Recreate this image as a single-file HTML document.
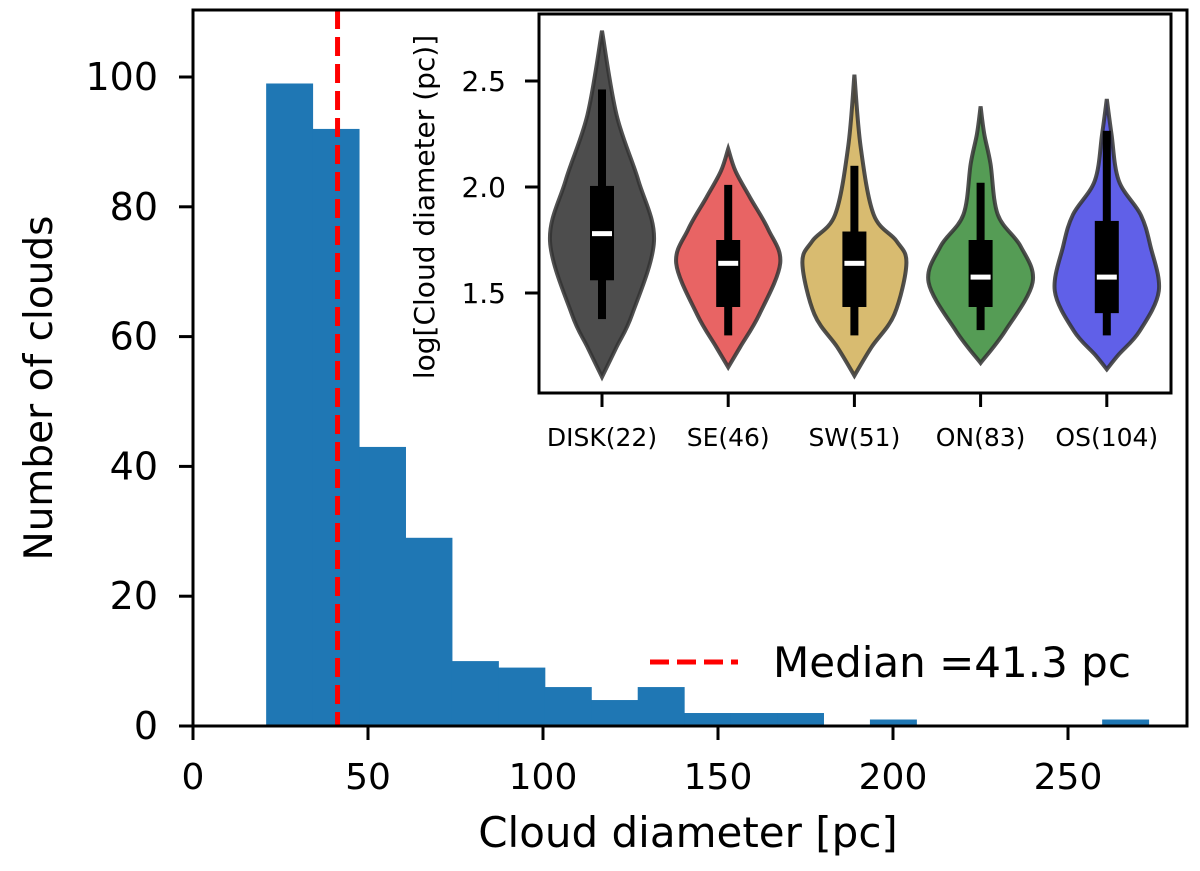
<!DOCTYPE html>
<html><head><meta charset="utf-8"><style>
body{margin:0;background:#fff}
svg text{font-family:"DejaVu Sans","Liberation Sans",sans-serif}
</style></head><body>
<svg id="chart" width="1200" height="866" viewBox="0 0 1200 866" xmlns="http://www.w3.org/2000/svg">
<g id="main"></g><g id="inset"></g>
</svg>
<script>
// Histogram data
const binStart = 20.9;
const binWidth = 13.27;
const counts = [99,92,43,29,10,9,6,4,6,2,2,2,0,1,0,0,0,0,1];
const xTicks = [0,50,100,150,200,250];
const yTicks = [0,20,40,60,80,100];
const medianValue = 41.3;

// Inset violin data
const categories = ["DISK(22)","SE(46)","SW(51)","ON(83)","OS(104)"];
const colors = ["#4d4d4d","#e86464","#d8bb70","#559c55","#6060e8"];
const vLevels = [
 [2.737,2.34,2.03,1.745,1.40,1.245,1.104],
 [2.18,2.075,1.95,1.80,1.64,1.40,1.245,1.15],
 [2.53,2.19,1.87,1.745,1.64,1.40,1.245,1.11],
 [2.38,2.25,2.11,1.87,1.72,1.55,1.32,1.17],
 [2.415,2.25,2.03,1.87,1.72,1.51,1.32,1.21,1.14]
];
const vWidths = [
 [0,0.28,0.70,1.0,0.58,0.28,0],
 [0,0.14,0.42,0.77,1.0,0.60,0.23,0],
 [0,0.12,0.37,0.81,1.0,0.77,0.33,0],
 [0,0.07,0.19,0.33,0.77,1.0,0.47,0],
 [0,0.09,0.23,0.65,0.84,1.0,0.63,0.23,0]
];
const q1 = [1.56,1.434,1.434,1.434,1.405];
const q3 = [2.005,1.75,1.79,1.75,1.84];
const medians = [1.78,1.64,1.64,1.575,1.575];
const whiskLo = [1.377,1.30,1.30,1.325,1.30];
const whiskHi = [2.46,2.01,2.10,2.02,2.265];
const insetYTicks = [1.5,2.0,2.5];

const NS="http://www.w3.org/2000/svg";
function mk(tag,attrs,parent){const e=document.createElementNS(NS,tag);for(const k in attrs)e.setAttribute(k,attrs[k]);parent.appendChild(e);return e;}

// main axes
const L=193,R=1187,T=10,B=726;
const xs=v=>L+v*3.5;
const ys=v=>B-v*6.49;
const main=document.getElementById('main');
counts.forEach((c,i)=>{
  if(c<=0)return;
  const x0=xs(binStart+i*binWidth),x1=xs(binStart+(i+1)*binWidth);
  const r=mk('rect',{x:x0,y:ys(c),width:x1-x0+0.5,height:B-ys(c),fill:'#1f77b4'},main);
  
  
});
const ml=mk('line',{x1:xs(medianValue),x2:xs(medianValue),y1:T,y2:B,stroke:'#ff0000','stroke-width':5,'stroke-dasharray':'19,8'},main);


const fr=mk('rect',{x:L,y:T,width:R-L,height:B-T,fill:'none',stroke:'#000','stroke-width':3},main);


xTicks.forEach(t=>{
  mk('line',{x1:xs(t),x2:xs(t),y1:B,y2:B+14,stroke:'#000','stroke-width':3},main);
  const tx=mk('text',{x:xs(t),y:789,'font-size':36,'text-anchor':'middle'},main);tx.textContent=t;
  
  
});
yTicks.forEach(t=>{
  mk('line',{x1:L-14,x2:L,y1:ys(t),y2:ys(t),stroke:'#000','stroke-width':3},main);
  const tx=mk('text',{x:158,y:ys(t)+13,'font-size':38,'text-anchor':'end'},main);tx.textContent=t;
  
  
});
let t=mk('text',{x:688,y:847,'font-size':42,'text-anchor':'middle'},main);t.textContent='Cloud diameter [pc]';


t=mk('text',{x:0,y:0,'font-size':39,'text-anchor':'middle',transform:'translate(52,388) rotate(-90)'},main);t.textContent='Number of clouds';


const lg=mk('line',{x1:650,x2:738,y1:662,y2:662,stroke:'#ff0000','stroke-width':5,'stroke-dasharray':'19,8'},main);


t=mk('text',{x:773,y:677,'font-size':42},main);t.textContent='Median =41.3 pc';



// inset
const IL=539,IR=1171,IT=14,IB=393;
const iy=v=>81+(2.5-v)*212;
const ix=i=>602+i*126.2;
const HW=52;
const inset=document.getElementById('inset');
mk('rect',{x:IL,y:IT,width:IR-IL,height:IB-IT,fill:'#fff',stroke:'none'},inset);
function smoothPath(pts){
  let d=`M${pts[0][0]},${pts[0][1]}`;
  for(let i=0;i<pts.length-1;i++){
    const p0=pts[Math.max(0,i-1)],p1=pts[i],p2=pts[i+1],p3=pts[Math.min(pts.length-1,i+2)];
    const c1=[p1[0]+(p2[0]-p0[0])/6,p1[1]+(p2[1]-p0[1])/6];
    const c2=[p2[0]-(p3[0]-p1[0])/6,p2[1]-(p3[1]-p1[1])/6];
    d+=` C${c1[0]},${c1[1]} ${c2[0]},${c2[1]} ${p2[0]},${p2[1]}`;
  }
  return d;
}
categories.forEach((c,i)=>{
  const cx=ix(i);
  const right=vLevels[i].map((v,k)=>[cx+vWidths[i][k]*HW,iy(v)]);
  const left=vLevels[i].map((v,k)=>[cx-vWidths[i][k]*HW,iy(v)]).reverse();
  let d=smoothPath(right)+' '+smoothPath(left).replace(/^M/,'L')+' Z';
  const p=mk('path',{d:d,fill:colors[i],stroke:'#333','stroke-width':4,'stroke-opacity':0.85},inset);
  
  
  mk('rect',{x:cx-4,y:iy(whiskHi[i]),width:8,height:iy(whiskLo[i])-iy(whiskHi[i]),fill:'#000'},inset);
  const bx=mk('rect',{x:cx-12,y:iy(q3[i]),width:24,height:iy(q1[i])-iy(q3[i]),fill:'#000'},inset);
  
  
  const md=mk('rect',{x:cx-10,y:iy(medians[i])-2.5,width:20,height:5,fill:'#fff'},inset);
  
  
  mk('line',{x1:cx,x2:cx,y1:IB,y2:IB+14,stroke:'#000','stroke-width':3},inset);
  const tx=mk('text',{x:cx,y:446,'font-size':25,'text-anchor':'middle'},inset);tx.textContent=c;
  
  
});
const ifr=mk('rect',{x:IL,y:IT,width:IR-IL,height:IB-IT,fill:'none',stroke:'#000','stroke-width':3},inset);


insetYTicks.forEach(v=>{
  mk('line',{x1:IL-14,x2:IL,y1:iy(v),y2:iy(v),stroke:'#000','stroke-width':3},inset);
  const tx=mk('text',{x:506,y:iy(v)+10,'font-size':28,'text-anchor':'end'},inset);tx.textContent=v.toFixed(1);
  
  
});
t=mk('text',{x:0,y:0,'font-size':28,'text-anchor':'middle',transform:'translate(434,207) rotate(-90)'},inset);t.textContent='log[Cloud diameter (pc)]';


</script>
</body></html>
